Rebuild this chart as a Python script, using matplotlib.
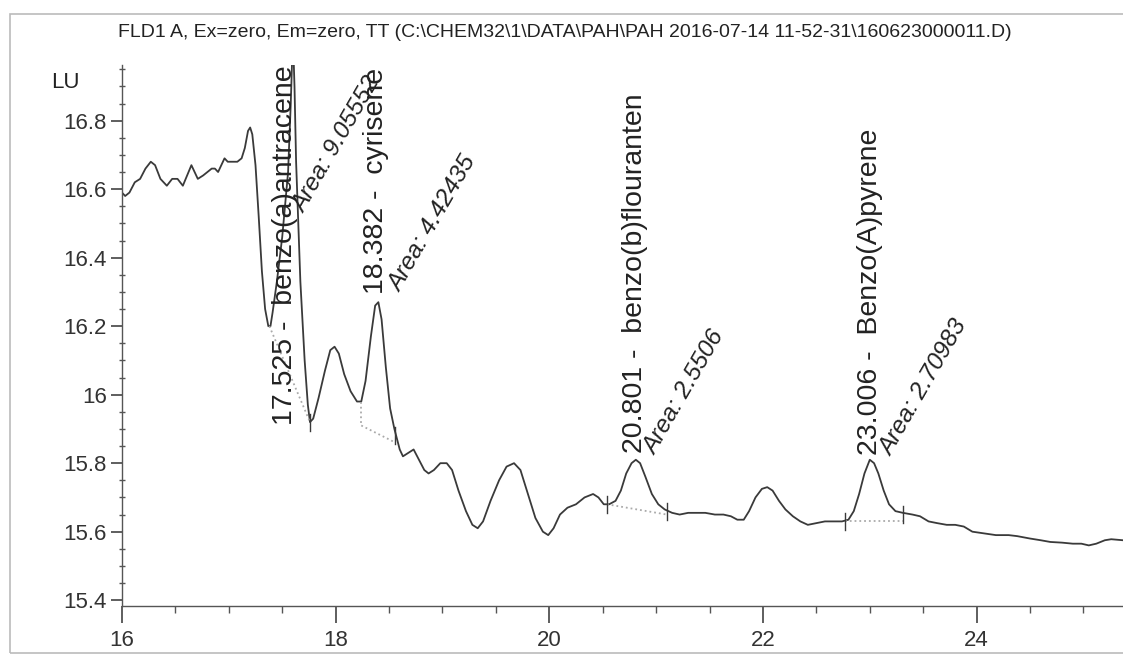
import matplotlib.pyplot as plt
from matplotlib.ticker import MultipleLocator, FormatStrFormatter
from matplotlib.patches import Rectangle

plt.rcParams['font.family'] = ['Liberation Sans', 'DejaVu Sans']

# chromatogram trace (retention time [min], signal [LU])
rt = [16.00, 16.03, 16.07, 16.12, 16.17, 16.22, 16.27, 16.31, 16.36, 16.42,
      16.47, 16.52, 16.57, 16.61, 16.65, 16.68, 16.71, 16.76, 16.80, 16.84,
      16.87, 16.90, 16.93, 16.96, 16.99, 17.03, 17.08, 17.12, 17.15, 17.18,
      17.20, 17.22, 17.25, 17.28, 17.31, 17.34, 17.37, 17.39, 17.41, 17.45,
      17.50, 17.555, 17.58, 17.60, 17.615, 17.63, 17.67, 17.71, 17.74, 17.76,
      17.79, 17.84, 17.90, 17.95, 17.99, 18.03, 18.08, 18.14, 18.20, 18.24,
      18.28, 18.33, 18.37, 18.40, 18.43, 18.47, 18.51, 18.55, 18.60, 18.63,
      18.68, 18.73, 18.78, 18.83, 18.87, 18.92, 18.98, 19.04, 19.09, 19.15,
      19.22, 19.28, 19.33, 19.38, 19.45, 19.53, 19.60, 19.67, 19.73, 19.80,
      19.87, 19.94, 19.99, 20.04, 20.10, 20.17, 20.25, 20.33, 20.41, 20.46,
      20.51, 20.56, 20.62, 20.67, 20.72, 20.77, 20.81, 20.85, 20.90, 20.96,
      21.02, 21.08, 21.15, 21.22, 21.30, 21.38, 21.46, 21.55, 21.63, 21.70,
      21.76, 21.82, 21.87, 21.93, 21.99, 22.04, 22.09, 22.15, 22.21, 22.28,
      22.35, 22.42, 22.50, 22.58, 22.66, 22.74, 22.80, 22.85, 22.90, 22.95,
      23.00, 23.04, 23.08, 23.13, 23.18, 23.24, 23.31, 23.40, 23.47, 23.55,
      23.63, 23.72, 23.80, 23.88, 23.96, 24.07, 24.18, 24.30, 24.38, 24.50,
      24.60, 24.69, 24.80, 24.90, 24.98, 25.05, 25.12, 25.20, 25.26, 25.37]
lu = [16.59, 16.58, 16.59, 16.62, 16.63, 16.66, 16.68, 16.67, 16.63, 16.61,
      16.63, 16.63, 16.61, 16.64, 16.67, 16.65, 16.63, 16.64, 16.65, 16.66,
      16.66, 16.65, 16.67, 16.69, 16.68, 16.68, 16.68, 16.69, 16.72, 16.77,
      16.78, 16.76, 16.67, 16.52, 16.36, 16.25, 16.20, 16.20, 16.24, 16.33,
      16.46, 16.65, 16.85, 17.05, 16.90, 16.68, 16.33, 16.10, 15.97, 15.92,
      15.93, 15.99, 16.07, 16.13, 16.14, 16.12, 16.06, 16.01, 15.98, 15.98,
      16.04, 16.17, 16.26, 16.27, 16.22, 16.08, 15.96, 15.90, 15.84, 15.82,
      15.83, 15.84, 15.81, 15.78, 15.77, 15.78, 15.80, 15.80, 15.78, 15.72,
      15.66, 15.62, 15.61, 15.63, 15.69, 15.75, 15.79, 15.80, 15.78, 15.71,
      15.64, 15.60, 15.59, 15.61, 15.65, 15.67, 15.68, 15.70, 15.71, 15.70,
      15.68, 15.68, 15.69, 15.72, 15.77, 15.80, 15.81, 15.80, 15.76, 15.71,
      15.68, 15.665, 15.655, 15.65, 15.655, 15.655, 15.655, 15.65, 15.65, 15.645,
      15.635, 15.635, 15.66, 15.70, 15.725, 15.73, 15.72, 15.69, 15.665, 15.645,
      15.63, 15.62, 15.625, 15.63, 15.63, 15.63, 15.635, 15.66, 15.71, 15.77,
      15.81, 15.80, 15.77, 15.72, 15.68, 15.66, 15.655, 15.65, 15.645, 15.63,
      15.625, 15.62, 15.62, 15.615, 15.60, 15.595, 15.59, 15.59, 15.587, 15.58,
      15.575, 15.57, 15.568, 15.565, 15.565, 15.56, 15.565, 15.575, 15.578, 15.575]

# integration baselines (start rt, start LU, end rt, end LU)
bl_x0 = [17.38, 18.24, 20.54, 22.77]
bl_y0 = [16.20, 15.91, 15.68, 15.63]
bl_x1 = [17.76, 18.56, 21.10, 23.31]
bl_y1 = [15.92, 15.86, 15.65, 15.63]

# peak events (tick marks on the trace)
ev_rt = [17.76, 18.56, 20.54, 21.10, 22.77, 23.31]
ev_lu = [15.92, 15.88, 15.68, 15.66, 15.63, 15.65]

# peak annotations
pk_rt = [17.525, 18.382, 20.801, 23.006]
pk_name = ['benzo(a)antracene', 'cyrisene', 'benzo(b)flouranten', 'Benzo(A)pyrene']
pk_area = ['9.05552', '4.42435', '2.5506', '2.70983']
name_y = [15.91, 16.295, 15.83, 15.825]
area_x = [17.56, 18.46, 20.85, 23.05]
area_y = [16.52, 16.29, 15.815, 15.81]

fig = plt.figure(figsize=(11.23, 6.58), dpi=100)
ax = fig.add_axes([0.1086, 0.079, 0.8914, 0.822])

ax.plot(rt, lu, color='#3a3a3a', linewidth=1.3)

for x0, y0, x1, y1 in zip(bl_x0, bl_y0, bl_x1, bl_y1):
    ax.plot([x0, x1], [y0, y1], color='#aaaaaa', linestyle=':', linewidth=1.3)
ax.plot([18.24, 18.24], [15.98, 15.91], color='#aaaaaa', linestyle=':', linewidth=1.3)

for x, y in zip(ev_rt, ev_lu):
    ax.plot([x, x], [y - 0.025, y + 0.025], color='#3a3a3a', linewidth=1.0)

for x, name, y in zip(pk_rt, pk_name, name_y):
    ax.text(x, y, '%.3f -  %s' % (x, name), rotation=90, ha='center', va='bottom',
            fontsize=20.5, color='#222222')
for x, y, a in zip(area_x, area_y, pk_area):
    ax.text(x, y, 'Area: ' + a, rotation=60, ha='left', va='bottom',
            fontsize=17.5, style='italic', color='#222222')

ax.set_xlim(16, 25.37)
ax.set_ylim(15.383, 16.962)

ax.xaxis.set_major_locator(MultipleLocator(2))
ax.xaxis.set_minor_locator(MultipleLocator(0.5))
ax.yaxis.set_major_locator(MultipleLocator(0.2))
ax.yaxis.set_minor_locator(MultipleLocator(0.05))
ax.yaxis.set_major_formatter(FormatStrFormatter('%g'))

ax.tick_params(axis='x', which='major', direction='out', length=12, width=1.1,
               pad=5, labelsize=16, colors='#333333')
ax.tick_params(axis='x', which='minor', direction='out', length=5, width=1.0, colors='#555555')
ax.tick_params(axis='y', which='major', direction='out', length=8, width=1.1,
               pad=3, labelsize=16, colors='#333333')
ax.tick_params(axis='y', which='minor', direction='inout', length=5, width=1.0, colors='#555555')

for side in ['top', 'right']:
    ax.spines[side].set_visible(False)
for side in ['left', 'bottom']:
    ax.spines[side].set_color('#555555')
    ax.spines[side].set_linewidth(1.0)

fig.text(0.503, 0.95, r'FLD1 A, Ex=zero, Em=zero, TT (C:\CHEM32\1\DATA\PAH\PAH 2016-07-14 11-52-31\160623000011.D)',
         ha='center', va='center', fontsize=14, color='#222222')
fig.text(0.058, 0.875, 'LU', ha='center', va='center', fontsize=16, color='#222222')

# scanned page frame
fig.add_artist(Rectangle((0.009, 0.007), 1.2, 0.972, transform=fig.transFigure,
                         fill=False, edgecolor='#bbbbbb', linewidth=1.2))

fig.savefig('out.png', dpi=100)
